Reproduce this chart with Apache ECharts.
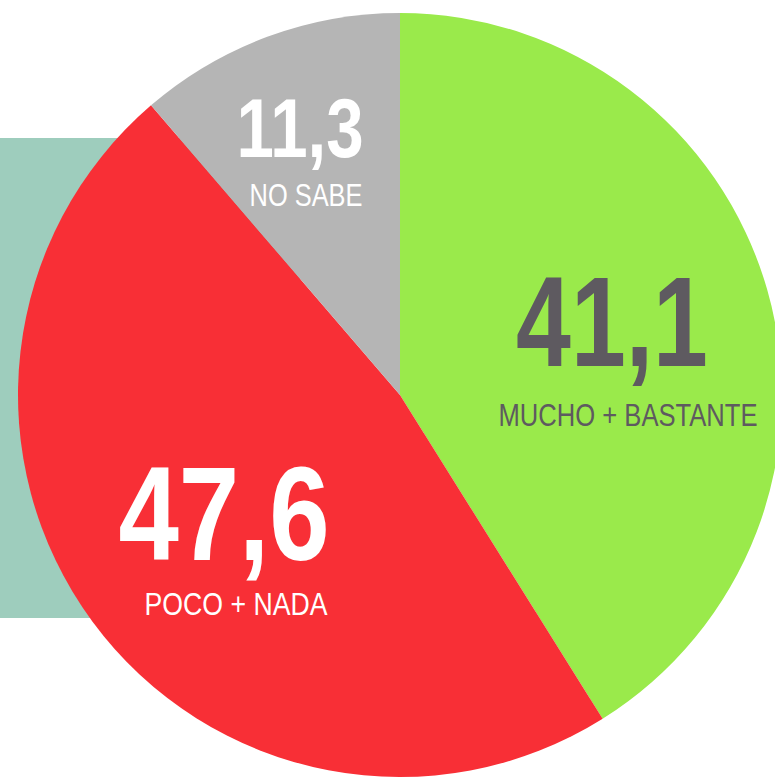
<!DOCTYPE html>
<html>
<head>
<meta charset="utf-8">
<script src="https://cdn.jsdelivr.net/npm/echarts@6/dist/echarts.min.js"></script>
<style>
  html, body { margin: 0; padding: 0; background: #fff; }
  #chart { width: 775px; height: 778px; }
</style>
</head>
<body>
<div id="chart"></div>
<script>
// datos del gráfico
const categorias = ['MUCHO + BASTANTE', 'POCO + NADA', 'NO SABE'];
const valores = [41.1, 47.6, 11.3];
const colores = ['#9aea4b', '#f82f36', '#b5b5b5'];

// estilo de cada etiqueta: color, tamaño cifra, tamaño nombre
const colorTexto = ['#5e5a60', '#ffffff', '#ffffff'];
const tamCifra = [128, 134, 84];
const tamNombre = [32, 31, 31];
// centro de la cifra y del nombre (la letra es condensada -> scaleX)
const posCifra = [[612, 322], [224, 514], [300, 128]];
const posNombre = [[628, 415], [236, 604], [306, 195]];
const escalaCifra = [0.77, 0.81, 0.8];
const escalaNombre = [0.8, 0.86, 0.82];

const fuente = '"Liberation Sans", Arial, sans-serif';

let chart = echarts.init(document.getElementById('chart'), null, { renderer: 'svg' });

let datos = categorias.map(function (nombre, i) {
    return { name: nombre, value: valores[i], itemStyle: { color: colores[i] } };
});

// textos de las porciones (cifra + nombre)
let textos = [];
categorias.forEach(function (nombre, i) {
    textos.push({
        type: 'text',
        z: 10,
        x: posCifra[i][0],
        y: posCifra[i][1],
        scaleX: escalaCifra[i],
        style: {
            text: valores[i].toFixed(1).replace('.', ','),
            font: 'bold ' + tamCifra[i] + 'px ' + fuente,
            fill: colorTexto[i],
            align: 'center',
            verticalAlign: 'middle'
        }
    });
    textos.push({
        type: 'text',
        z: 10,
        x: posNombre[i][0],
        y: posNombre[i][1],
        scaleX: escalaNombre[i],
        style: {
            text: nombre,
            font: tamNombre[i] + 'px ' + fuente,
            fill: colorTexto[i],
            align: 'center',
            verticalAlign: 'middle'
        }
    });
});

let option = {
    backgroundColor: '#ffffff',
    animation: false,
    graphic: [
        {
            type: 'rect',
            z: 0,
            shape: { x: 0, y: 138, width: 300, height: 480 },
            style: { fill: '#9ecdbd' }
        }
    ].concat(textos),
    series: [
        {
            type: 'pie',
            z: 2,
            center: [400, 395],
            radius: 382,
            startAngle: 90,
            clockwise: true,
            silent: true,
            data: datos,
            label: { show: false },
            labelLine: { show: false }
        }
    ]
};
chart.setOption(option);
</script>
</body>
</html>
